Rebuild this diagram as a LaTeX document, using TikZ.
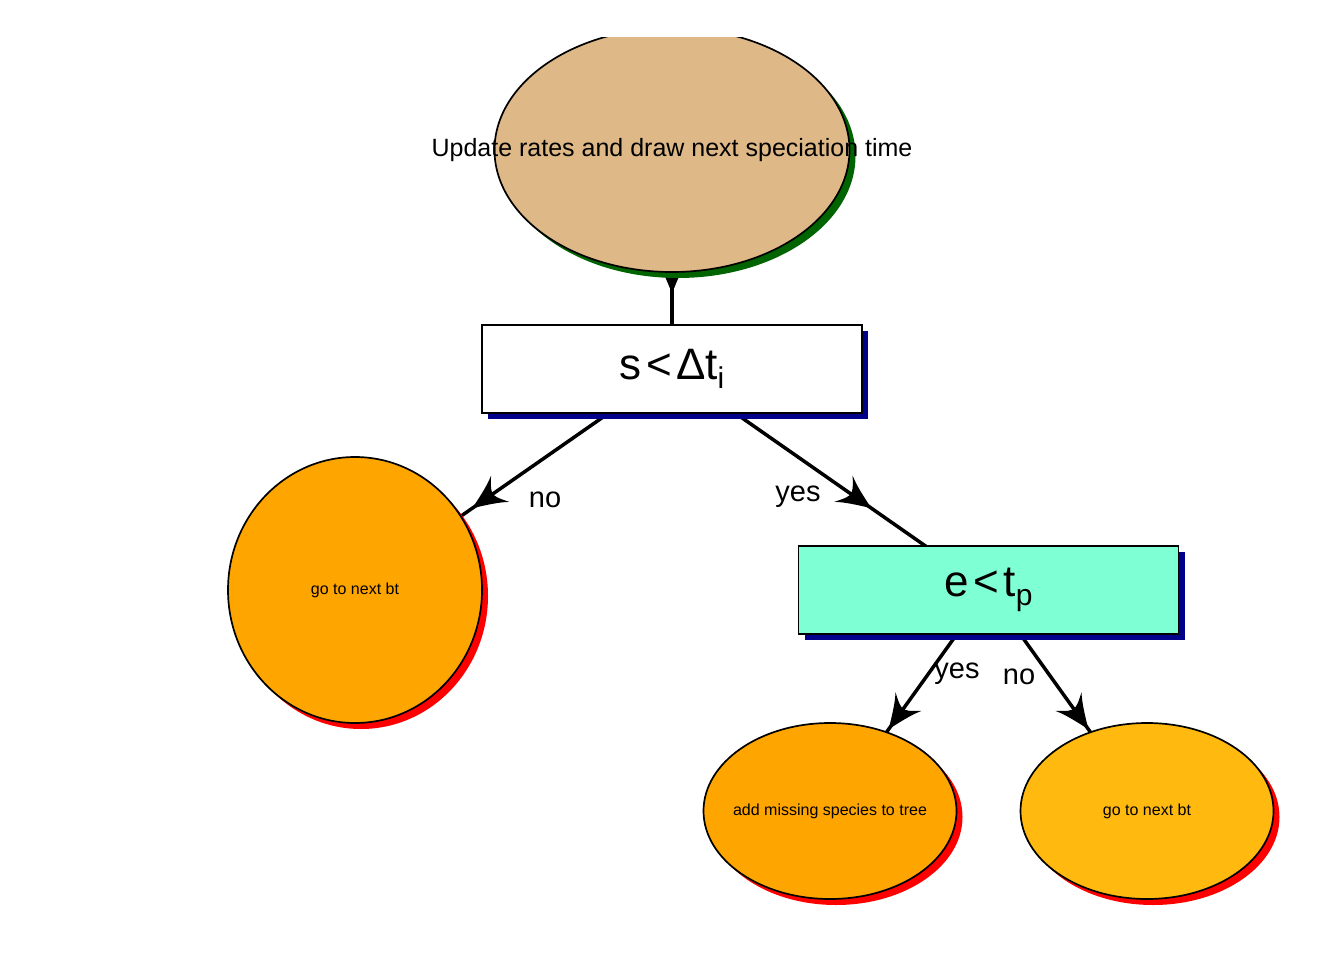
\documentclass[tikz,border=0pt]{standalone}
\usepackage{fontspec}
\setmainfont{Liberation Sans}
\usetikzlibrary{shapes.geometric,shadows,decorations.markings,arrows.meta}

\pgfdeclarelayer{background}
\pgfsetlayers{background,main}

% swept arrow head with concave sides and hooked barbs
\pgfdeclarearrow{
  name = Swept,
  defaults = {length = 34pt, width = 32pt},
  parameters = {\the\pgfarrowlength,\the\pgfarrowwidth},
  setup code = {
    \pgfarrowssettipend{0pt}
    \pgfarrowssetlineend{-0.5\pgfarrowlength}
    \pgfarrowssetbackend{-\pgfarrowlength}
    \pgfarrowssetvisualbackend{-\pgfarrowlength}
    \pgfarrowshullpoint{0pt}{0pt}
    \pgfarrowsupperhullpoint{-\pgfarrowlength}{.5\pgfarrowwidth}
    \pgfarrowssavethe\pgfarrowlength
    \pgfarrowssavethe\pgfarrowwidth
  },
  drawing code = {
    \pgfpathmoveto{\pgfpoint{0pt}{0pt}}
    \pgfpathcurveto{\pgfpoint{-0.4\pgfarrowlength}{0.17\pgfarrowwidth}}
                   {\pgfpoint{-0.75\pgfarrowlength}{0.32\pgfarrowwidth}}
                   {\pgfpoint{-\pgfarrowlength}{0.5\pgfarrowwidth}}
    \pgfpathcurveto{\pgfpoint{-0.82\pgfarrowlength}{0.24\pgfarrowwidth}}
                   {\pgfpoint{-0.70\pgfarrowlength}{0.07\pgfarrowwidth}}
                   {\pgfpoint{-0.76\pgfarrowlength}{0pt}}
    \pgfpathcurveto{\pgfpoint{-0.70\pgfarrowlength}{-0.07\pgfarrowwidth}}
                   {\pgfpoint{-0.82\pgfarrowlength}{-0.24\pgfarrowwidth}}
                   {\pgfpoint{-\pgfarrowlength}{-0.5\pgfarrowwidth}}
    \pgfpathcurveto{\pgfpoint{-0.75\pgfarrowlength}{-0.32\pgfarrowwidth}}
                   {\pgfpoint{-0.4\pgfarrowlength}{-0.17\pgfarrowwidth}}
                   {\pgfpoint{0pt}{0pt}}
    \pgfpathclose
    \pgfusepathqfill
  }
}

\definecolor{burly}{RGB}{222,184,135}
\definecolor{leafgreen}{RGB}{0,100,0}
\definecolor{navyshade}{RGB}{0,0,139}
\definecolor{aqua}{RGB}{127,255,212}
\definecolor{orangefill}{RGB}{255,165,0}
\definecolor{goldfill}{RGB}{255,185,15}
\definecolor{redshade}{RGB}{255,0,0}

\tikzset{
  x=1pt, y=-1pt,
  blob/.style={ellipse, draw=black, line width=1.7pt, inner sep=0pt},
  blobtext/.style={font=\fontsize{16}{16}\selectfont, inner sep=0pt},
  boxnode/.style={rectangle, draw=black, line width=1.7pt, inner sep=0pt,
    minimum width=380pt, minimum height=88pt,
    font=\fontsize{44}{44}\selectfont,
    drop shadow={shadow xshift=6pt, shadow yshift=-6pt, fill=navyshade, opacity=1}},
  greenshade/.style={drop shadow={shadow xshift=6pt, shadow yshift=-6pt, fill=leafgreen, opacity=1}},
  redshadow/.style={drop shadow={shadow xshift=6pt, shadow yshift=-6pt, fill=redshade, opacity=1}},
  flow/.style={line width=3.5pt, postaction={decorate},
    decoration={markings, mark=at position #1 with {\arrow{Swept}}}},
  flow/.default=0.63,
  edgelabel/.style={font=\fontsize{29}{29}\selectfont, inner sep=0pt},
}

\newcommand{\lowsub}[1]{\raisebox{-0.22em}{\fontsize{30}{30}\selectfont #1}}

\begin{document}
\begin{tikzpicture}
  \useasboundingbox (0,0) rectangle (1344,960);
  \clip (0,38) rectangle (1344,960);

  % nodes
  \node[blob, greenshade, fill=burly, minimum width=355pt, minimum height=244pt] (top) at (672,150) {};
  \node[font=\fontsize{25}{25}\selectfont, inner sep=0pt] (toptext) at (top.center) {Update rates and draw next speciation time};

  \node[boxnode, fill=white] (s) at (672,369) {s\kern0.1em<\kern0.1emΔt\lowsub{i}};
  \node[boxnode, fill=aqua] (e) at (988.5,590) {e\kern0.1em<\kern0.1emt\lowsub{p}};

  \node[blob, redshadow, fill=orangefill, minimum width=254pt, minimum height=266pt] (gl) at (355,590) {};
  \node[blobtext] (gltext) at (gl.center) {go to next bt};
  \node[blob, redshadow, fill=orangefill, minimum width=253pt, minimum height=176pt] (add) at (830,811) {};
  \node[blobtext] (addtext) at (add.center) {add missing species to tree};
  \node[blob, redshadow, fill=goldfill, minimum width=253pt, minimum height=176pt] (gr) at (1147,811) {};
  \node[blobtext] (grtext) at (gr.center) {go to next bt};

  % edge labels
  \node[edgelabel] (l1) at (545,500) {no};
  \node[edgelabel] (l2) at (798,497) {yes};
  \node[edgelabel] (l3) at (957,674) {yes};
  \node[edgelabel] (l4) at (1019,677) {no};

  % connectors, behind the nodes
  \begin{pgfonlayer}{background}
    \draw[flow=0.655] (top.center) -- (s.center);
    \draw[flow] (s.center) -- (gl.center);
    \draw[flow] (s.center) -- (e.center);
    \draw[flow] (e.center) -- (add.center);
    \draw[flow] (e.center) -- (gr.center);
  \end{pgfonlayer}
\end{tikzpicture}
\end{document}
